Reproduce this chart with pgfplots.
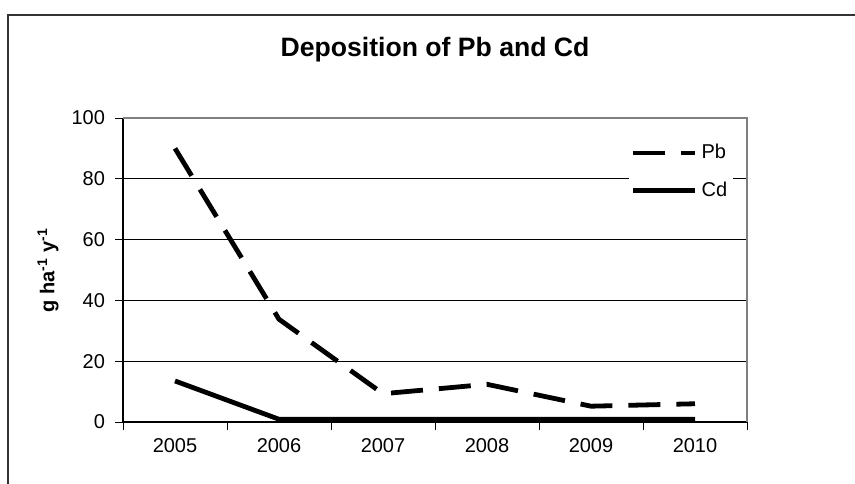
\documentclass[border=0pt]{standalone}
\usepackage{fontspec}
\setmainfont{Liberation Sans}
\usepackage{pgfplots}
\pgfplotsset{compat=1.18}
\begin{document}
\begin{tikzpicture}
\useasboundingbox (0,0) rectangle (427.5pt,241.5pt);
\draw[line width=0.8pt, black!80] (4pt,-10pt) -- (4pt,234pt) -- (440pt,234pt);
\begin{axis}[
  at={(61.5pt,30.5pt)}, anchor=south west,
  scale only axis, width=312pt, height=152pt,
  xmin=-0.5, xmax=5.5, ymin=0, ymax=100,
  axis x line*=bottom, axis y line*=left,
  axis line style={black, line width=0.6pt},
  xtick={0,1,2,3,4,5},
  xticklabels={2005,2006,2007,2008,2009,2010},
  major x tick style={draw=none},
  minor xtick={-0.5,0.5,1.5,2.5,3.5,4.5,5.5},
  ytick={0,20,40,60,80,100},
  tick align=outside,
  major tick length=4pt, minor tick length=4pt,
  tick style={black, line width=0.5pt},
  ymajorgrids, major grid style={black, line width=0.5pt},
  /pgf/number format/assume math mode=true,
  tick label style={font=\fontsize{10}{12}\selectfont},
  xticklabel style={yshift=-0.5pt},
  yticklabel style={xshift=-1.5pt},
  title={\textbf{Deposition of Pb and Cd}},
  title style={font=\fontsize{13.3}{15}\selectfont, at={(axis description cs:0.5,1)}, anchor=center, yshift=28pt},
  ylabel={\textbf{g ha\textsuperscript{-1} y\textsuperscript{-1}}},
  ylabel style={font=\fontsize{10}{12}\selectfont, at={(axis description cs:-0.12,0.5)}, anchor=center},
  legend style={draw=none, fill=white, at={(axis description cs:0.81,0.935)}, anchor=north west,
    font=\fontsize{10}{12}\selectfont, row sep=6pt, inner sep=1pt},
  legend cell align=left,
  legend image code/.code={\draw[#1] (0pt,0pt) -- (31pt,0pt);},
  after end axis/.code={\draw[gray, line width=0.8pt] (rel axis cs:0,1) -- (rel axis cs:1,1) -- (rel axis cs:1,0);},
]
\addplot[black, line width=2.4pt, dash pattern=on 16pt off 8pt] coordinates {
(0,90) (1,33.8) (2,9.3) (3,12.4) (4,5.2) (5,6)};
\addlegendentry{Pb}
\addplot[black, line width=2.4pt] coordinates {
(0,13.5) (1,0.9) (2,0.9) (3,0.9) (4,0.9) (5,0.9)};
\addlegendentry{Cd}
\end{axis}
\end{tikzpicture}
\end{document}
